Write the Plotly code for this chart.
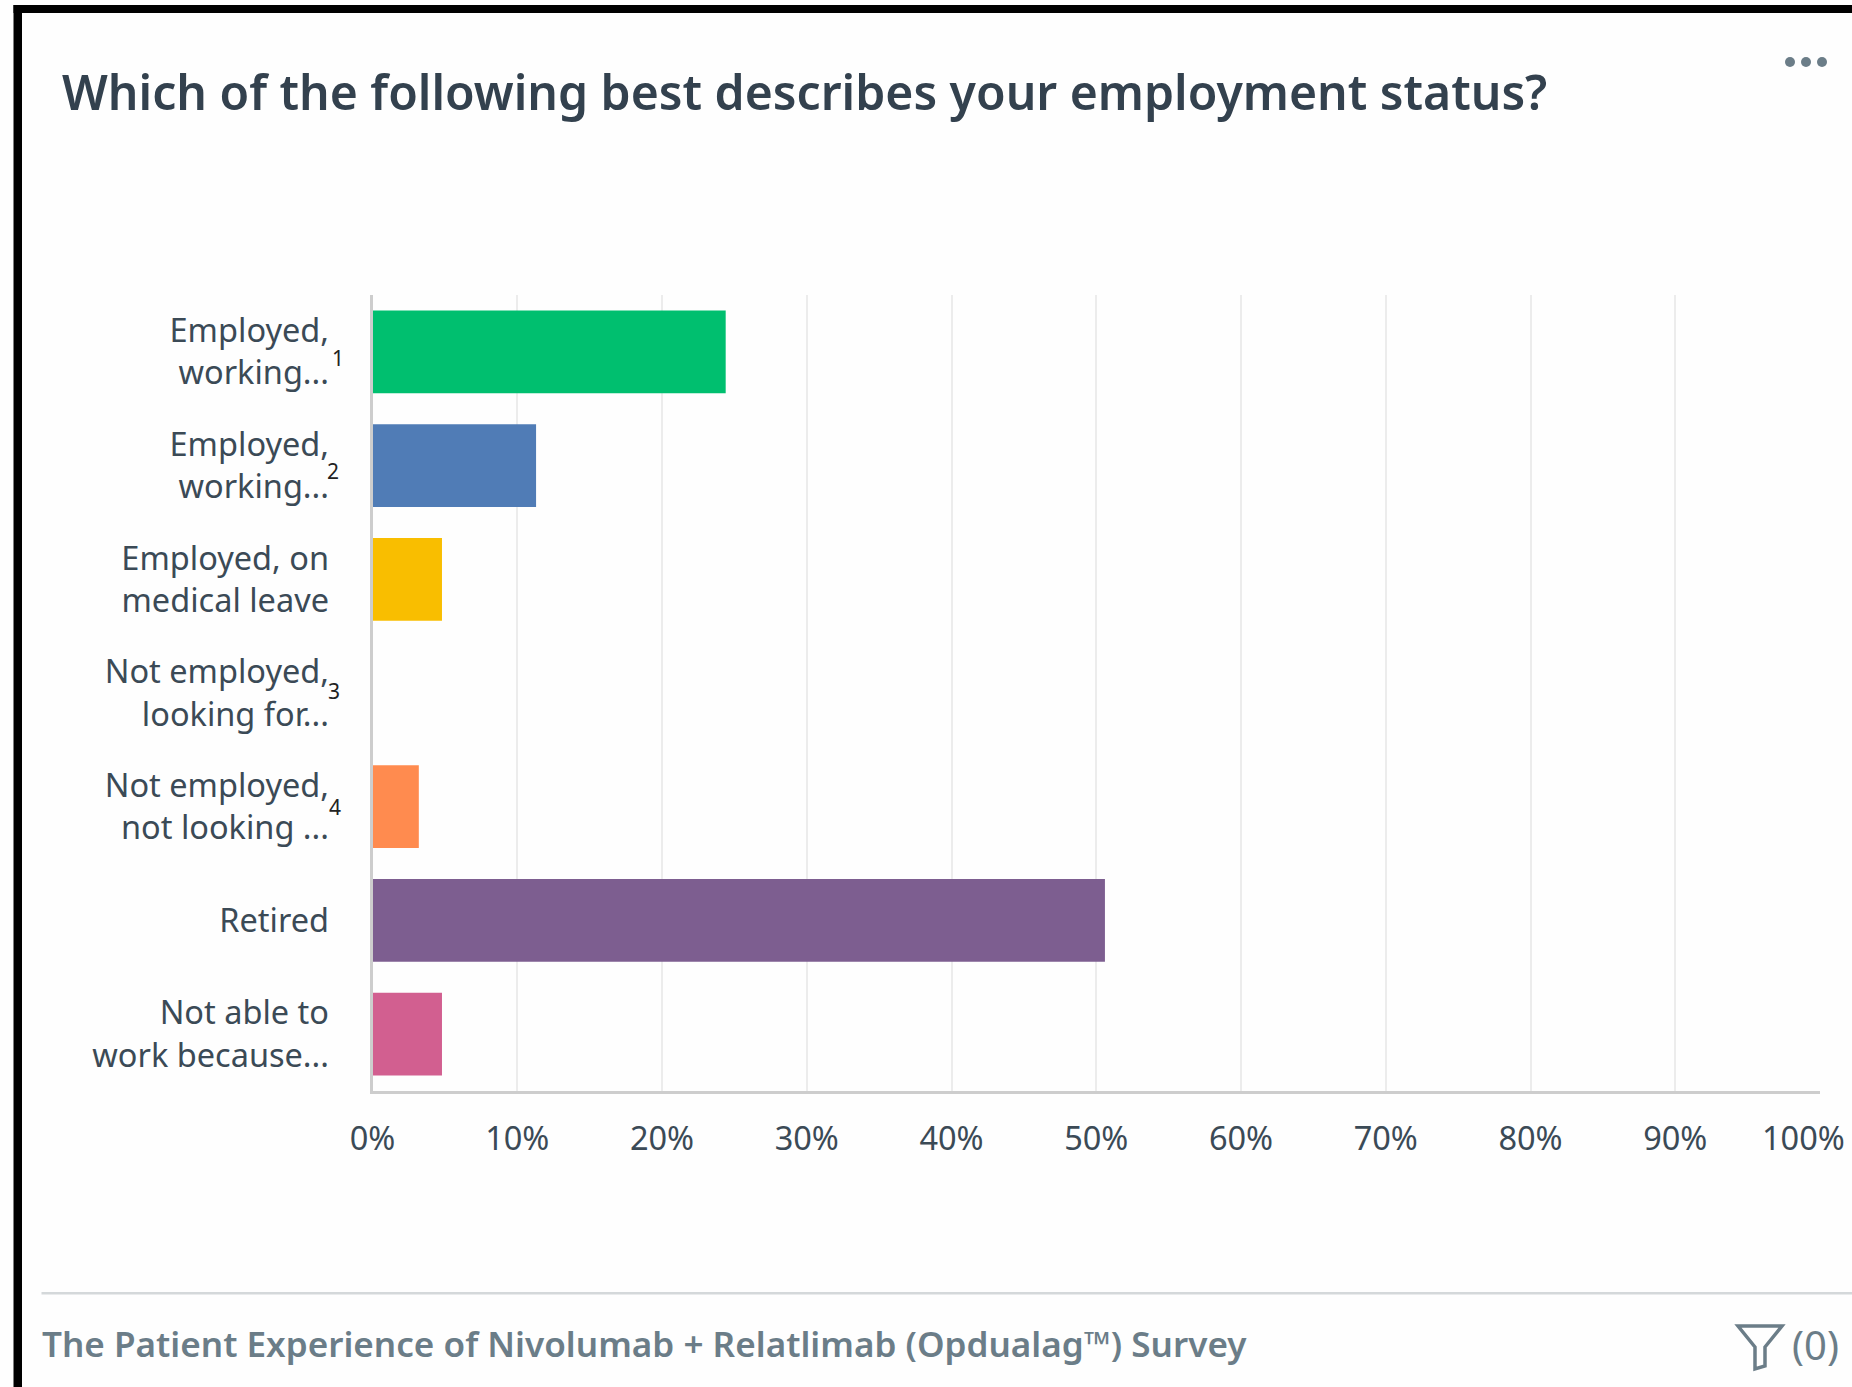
import plotly.graph_objects as go

W, H = 1852, 1387

categories = [
    "Employed,<br>working...",
    "Employed,<br>working...",
    "Employed, on<br>medical leave",
    "Not employed,<br>looking for...",
    "Not employed,<br>not looking ...",
    "Retired",
    "Not able to<br>work because...",
]
shares = [24.4, 11.3, 4.8, 0, 3.2, 50.6, 4.8]
bar_colors = ["#00bf6f", "#507cb6", "#f9be00", "#6bc8cd", "#ff8b4f", "#7d5e90", "#d25f90"]
x_ticks = [0, 10, 20, 30, 40, 50, 60, 70, 80, 90, 100]
x_tick_labels = ["0%", "10%", "20%", "30%", "40%", "50%", "60%", "70%", "80%", "90%", ""]
footnotes = [("1", 338, 358), ("2", 333, 471), ("3", 334, 691), ("4", 335, 807)]

TITLE = "Which of the following best describes your employment status?"
FOOTER = "The Patient Experience of Nivolumab + Relatlimab (Opdualag™) Survey"
FONT = "Noto Sans"
INK = "#3b4a56"
SLATE = "#6b7d88"
TICK_SIZE = 32.5

rows = list(range(len(categories)))


def px(x):
    return x / W


def py(y):
    return 1 - y / H


def rect(x0, y0, x1, y1, color):
    return dict(type="rect", xref="paper", yref="paper", x0=px(x0), x1=px(x1),
                y0=py(y0), y1=py(y1), fillcolor=color, line_width=0, layer="below")


def label(text, x, y, size, color, anchor="left", weight=400):
    return dict(text=text, xref="paper", yref="paper", x=px(x), y=py(y), xanchor=anchor,
                yanchor="middle", showarrow=False,
                font=dict(family=FONT, size=size, color=color, weight=weight))


fig = go.Figure(go.Bar(
    x=shares, y=rows, orientation="h",
    marker=dict(color=bar_colors, line_width=0),
    hoverinfo="skip",
))

shapes = [
    rect(13.5, 5, W, 13, "#000000"),
    rect(13.5, 5, 22, H, "#000000"),
    rect(41.5, 1292, W, 1294.5, "#d4d8da"),
]
# overflow menu dots
for cx in (1790, 1806, 1822):
    shapes.append(dict(type="circle", xref="paper", yref="paper", x0=px(cx - 5), x1=px(cx + 5),
                       y0=py(67), y1=py(57), fillcolor=SLATE, line_width=0))
# filter funnel icon
funnel = [(1738, 1326), (1782, 1326), (1765, 1347), (1765, 1366), (1755, 1369), (1755, 1347)]
path = "M " + " L ".join(f"{px(a):.5f},{py(b):.5f}" for a, b in funnel) + " Z"
shapes.append(dict(type="path", xref="paper", yref="paper", path=path,
                   line=dict(color=SLATE, width=3.5), fillcolor="rgba(0,0,0,0)"))

annotations = [
    label(TITLE, 60, 91, 48.1, "#33414e", weight=600),
    label(FOOTER, 40, 1343, 35.1, SLATE, weight=600),
    label("(0)", 1790, 1344, 40, SLATE),
    label("100%", 1803, 1137, TICK_SIZE, INK, anchor="center"),
]
annotations += [label(t, x, y, 21, "#222222", anchor="center") for t, x, y in footnotes]

fig.update_layout(
    width=W, height=H, margin=dict(l=0, r=0, t=0, b=0, autoexpand=False),
    paper_bgcolor="#fefefe", plot_bgcolor="#fefefe", showlegend=False, bargap=0.272,
    font=dict(family=FONT, color=INK),
    shapes=shapes, annotations=annotations,
    xaxis=dict(domain=[px(372.5), px(1820)], range=[0, 100], tickmode="array",
               tickvals=x_ticks, ticktext=x_tick_labels, tickfont=dict(size=TICK_SIZE, color=INK),
               showgrid=True, gridcolor="#ececec", gridwidth=2, zeroline=False,
               showline=True, linecolor="#cdcdcd", linewidth=3, ticks="", ticklabelstandoff=17),
    yaxis=dict(domain=[py(1091), py(295)], range=[len(rows) - 0.5, -0.5], tickmode="array",
               tickvals=rows, ticktext=categories,
               tickfont=dict(size=TICK_SIZE, color=INK), showgrid=False, zeroline=False,
               showline=True, linecolor="#cdcdcd", linewidth=3, ticks="", ticklabelstandoff=34),
)

fig.write_html("out.html", config=dict(displayModeBar=False))
